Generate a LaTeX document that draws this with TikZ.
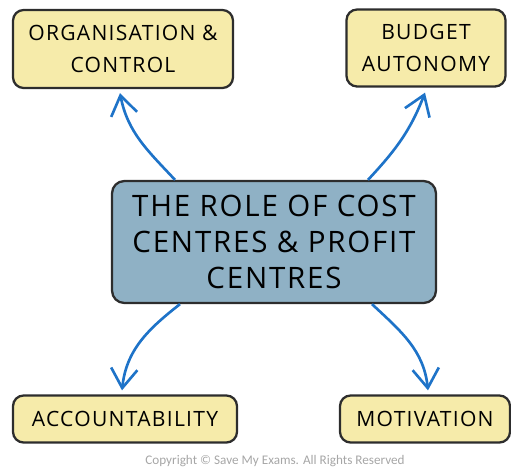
\documentclass[tikz,border=0pt]{standalone}
\usepackage{fontspec}
\setmainfont{Open Sans}[LetterSpace=6]
\newfontfamily\notefont{Carlito}
\usepackage{xcolor}
\usetikzlibrary{arrows.meta,calc}

\definecolor{boxyellow}{RGB}{246,235,170}
\definecolor{boxblue}{RGB}{143,177,197}
\definecolor{arrowblue}{RGB}{30,115,200}
\definecolor{edgegrey}{RGB}{45,45,45}

\tikzset{
  leaf/.style={draw=edgegrey, line width=1.3pt, fill=boxyellow, rounded corners=6pt, align=center, inner sep=0pt, font=\fontsize{12}{18.5}\selectfont},
  hub/.style={draw=edgegrey, line width=1.3pt, fill=boxblue, rounded corners=7pt, align=center, inner sep=0pt, font=\fontsize{16.8}{20.7}\selectfont},
  flow/.style={arrowblue, line width=1.5pt, -{Straight Barb[length=11pt,width=15pt]}}
}

\begin{document}
\begin{tikzpicture}[x=0.02cm,y=0.02cm]
\useasboundingbox (0,0) rectangle (511,-468);

% centre box
\node[hub, minimum width=6.48cm, minimum height=2.44cm] (role) at (274,-242) {THE ROLE OF COST\\CENTRES \& PROFIT\\CENTRES};

% the four outcomes
\node[leaf, minimum width=4.4cm, minimum height=1.56cm] (org) at (123,-49) {ORGANISATION \&\\CONTROL};
\node[leaf, minimum width=3.18cm, minimum height=1.54cm] (budget) at (426,-48) {BUDGET\\AUTONOMY};
\node[leaf, minimum width=4.48cm, minimum height=0.94cm] (account) at (125,-419) {ACCOUNTABILITY};
\node[leaf, minimum width=3.4cm, minimum height=0.94cm] (motiv) at (425,-419) {MOTIVATION};

% arrows out of the centre box
\draw[flow] ([xshift=-1.98cm]role.north) to[out=133,in=-79] ([xshift=-0.06cm,yshift=-0.08cm]org.south);
\draw[flow] ([xshift=1.88cm]role.north) to[out=47,in=-111] ([xshift=-0.02cm,yshift=-0.1cm]budget.south);
\draw[flow] ([xshift=-1.88cm]role.south) to[out=-142,in=84] ([xshift=-0.06cm,yshift=0.08cm]account.north);
\draw[flow] ([xshift=1.96cm]role.south) to[out=-43,in=96] ([xshift=0.06cm,yshift=0.08cm]motiv.north);

\node[font=\notefont\fontsize{7.5}{9}\selectfont, text=black!35] (copy) at (275,-461) {Copyright © Save My Exams. All Rights Reserved};
\end{tikzpicture}
\end{document}
